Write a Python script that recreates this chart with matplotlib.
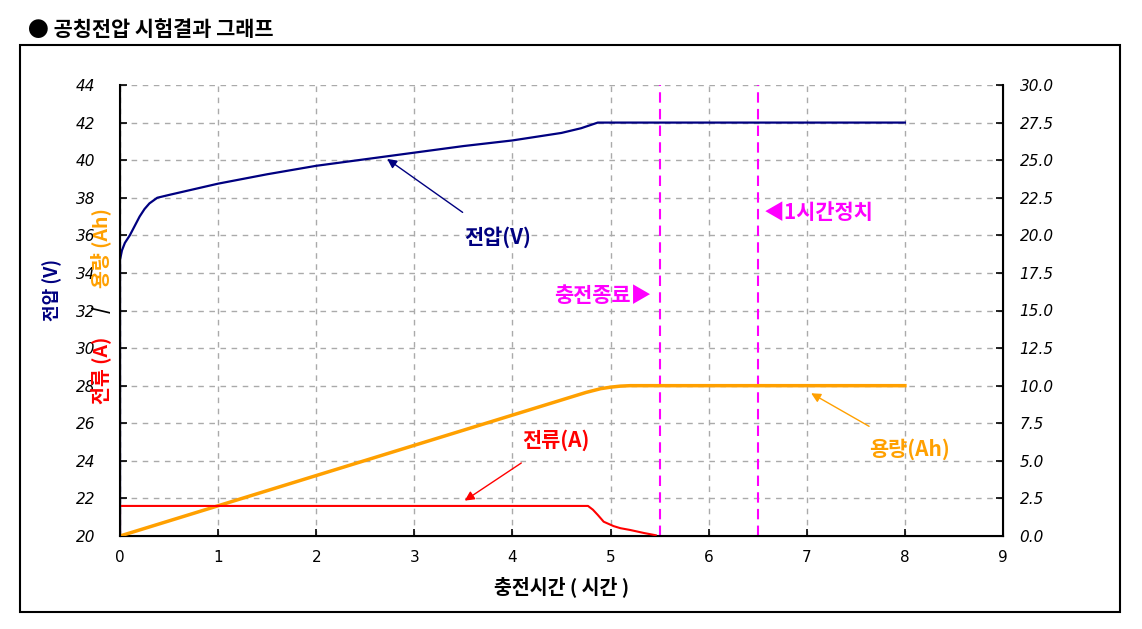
import numpy as np
import matplotlib.pyplot as plt
from matplotlib.patches import Rectangle

plt.rcParams['font.family'] = ['Noto Sans CJK KR', 'DejaVu Sans']

# voltage (V) vs time (h)
volt_t = [0, 0, 0.02, 0.05, 0.1, 0.15, 0.2, 0.25, 0.3, 0.38, 0.5, 0.75, 1.0, 1.5, 2.0,
          2.5, 3.0, 3.5, 4.0, 4.5, 4.7, 4.87, 5.0, 8.0]
volt_v = [20, 34.7, 35.2, 35.6, 36.0, 36.5, 37.0, 37.4, 37.7, 38.0, 38.15, 38.45, 38.75,
          39.25, 39.7, 40.05, 40.4, 40.75, 41.05, 41.45, 41.7, 42.0, 42.0, 42.0]
# current (A)
cur_t = [0, 0, 4.77, 4.82, 4.87, 4.93, 5.03, 5.1, 5.2, 5.34, 5.46]
cur_a = [0, 2.0, 2.0, 1.75, 1.4, 0.95, 0.66, 0.52, 0.4, 0.2, 0.05]
# capacity (Ah)
cap_t = [0, 4.75, 4.9, 5.0, 5.1, 5.2, 8.0]
cap_ah = [0, 9.55, 9.8, 9.9, 9.97, 10.0, 10.0]

end_charge = 5.5
end_rest = 6.5

navy = '#000080'
red = '#FF0000'
orange = '#FFA000'
magenta = '#FF00FF'

fig = plt.figure(figsize=(11.42, 6.29), dpi=100)
ax = fig.add_axes([120/1142, 1-536/629, 883/1142, 451/629])
ax2 = ax.twinx()

ax.set_xlim(0, 9)
ax.set_ylim(20, 44)
ax2.set_ylim(0, 30)
ax.set_xticks(range(10))
ax.set_yticks(range(20, 45, 2))
ax2.set_yticks(np.arange(0, 30.1, 2.5))
ax2.set_yticklabels([f'{v:.1f}' for v in np.arange(0, 30.1, 2.5)])

ax.grid(True, color='#aaaaaa', linestyle=(0, (4, 4)), linewidth=1)
ax.spines['top'].set_visible(False)
ax2.spines['top'].set_visible(False)
for s in ['left', 'bottom']:
    ax.spines[s].set_linewidth(1.5)
ax2.spines['right'].set_linewidth(1.5)
ax.tick_params(direction='in', length=5, width=1.2)
ax2.tick_params(direction='in', length=5, width=1.2)

for lab in ax.get_yticklabels() + ax2.get_yticklabels():
    lab.set_fontstyle('italic')
    lab.set_fontfamily('DejaVu Sans')
    lab.set_fontsize(11)
for lab in ax.get_xticklabels():
    lab.set_fontfamily('DejaVu Sans')
    lab.set_fontsize(11)
ax.tick_params(axis='x', pad=10)
ax.tick_params(axis='y', pad=18)
ax2.tick_params(axis='y', pad=12)

ax.axvline(end_charge, color=magenta, linestyle=(0, (5, 3)), linewidth=1.5)
ax.axvline(end_rest, color=magenta, linestyle=(0, (5, 3)), linewidth=1.5)

ax.plot(volt_t, volt_v, color=navy, linewidth=1.6)
ax2.plot(cap_t, cap_ah, color=orange, linewidth=2.5)
ax2.plot(cur_t, cur_a, color=red, linewidth=1.5)

ax.set_xlabel('충전시간 ( 시간 )', fontsize=14, fontweight='bold', labelpad=8)

ax.annotate('전압(V)', xy=(2.7, 40.15), xytext=(3.85, 35.9), color=navy,
            fontsize=15, fontweight='bold', ha='center', va='center',
            arrowprops=dict(arrowstyle='-|>', color=navy, lw=1,
                            mutation_scale=14, shrinkA=14))
ax.annotate('전류(A)', xy=(3.49, 21.8), xytext=(4.44, 25.1), color=red,
            fontsize=15, fontweight='bold', ha='center', va='center',
            arrowprops=dict(arrowstyle='-|>', color=red, lw=1,
                            mutation_scale=14, shrinkA=12))
ax.annotate('용량(Ah)', xy=(7.02, 27.67), xytext=(8.05, 24.6), color=orange,
            fontsize=15, fontweight='bold', ha='center', va='center',
            arrowprops=dict(arrowstyle='-|>', color=orange, lw=1,
                            mutation_scale=14, shrinkA=14))
ax.text(5.42, 32.8, '충전종료▶', color=magenta, fontsize=15, fontweight='bold',
        ha='right', va='center', family=['Noto Sans CJK KR', 'DejaVu Sans'])
ax.text(6.56, 37.2, '◀1시간정치', color=magenta, fontsize=15, fontweight='bold',
        ha='left', va='center', family=['Noto Sans CJK KR', 'DejaVu Sans'])

# y axis titles
fig.text(52/1142, 1-290/629, '전압 (V)', color=navy, fontsize=13, fontweight='bold',
         rotation=90, ha='center', va='center')
fig.text(101/1142, 1-248/629, '용량 (Ah)', color=orange, fontsize=14, fontweight='bold',
         rotation=90, ha='center', va='center')
fig.text(101/1142, 1-310/629, '/', color='black', fontsize=13, fontweight='bold',
         rotation=90, ha='center', va='center')
fig.text(101/1142, 1-370/629, '전류 (A)', color=red, fontsize=14, fontweight='bold',
         rotation=90, ha='center', va='center')

# title and frame
fig.text(28/1142, 1-30/629, '● 공칭전압 시험결과 그래프', fontsize=15, fontweight='bold',
         ha='left', va='center')
fig.add_artist(Rectangle((20/1142, 1-612/629), 1100/1142, 567/629,
                         transform=fig.transFigure, fill=False,
                         edgecolor='black', linewidth=1.5))

fig.savefig('out.png', dpi=100)
